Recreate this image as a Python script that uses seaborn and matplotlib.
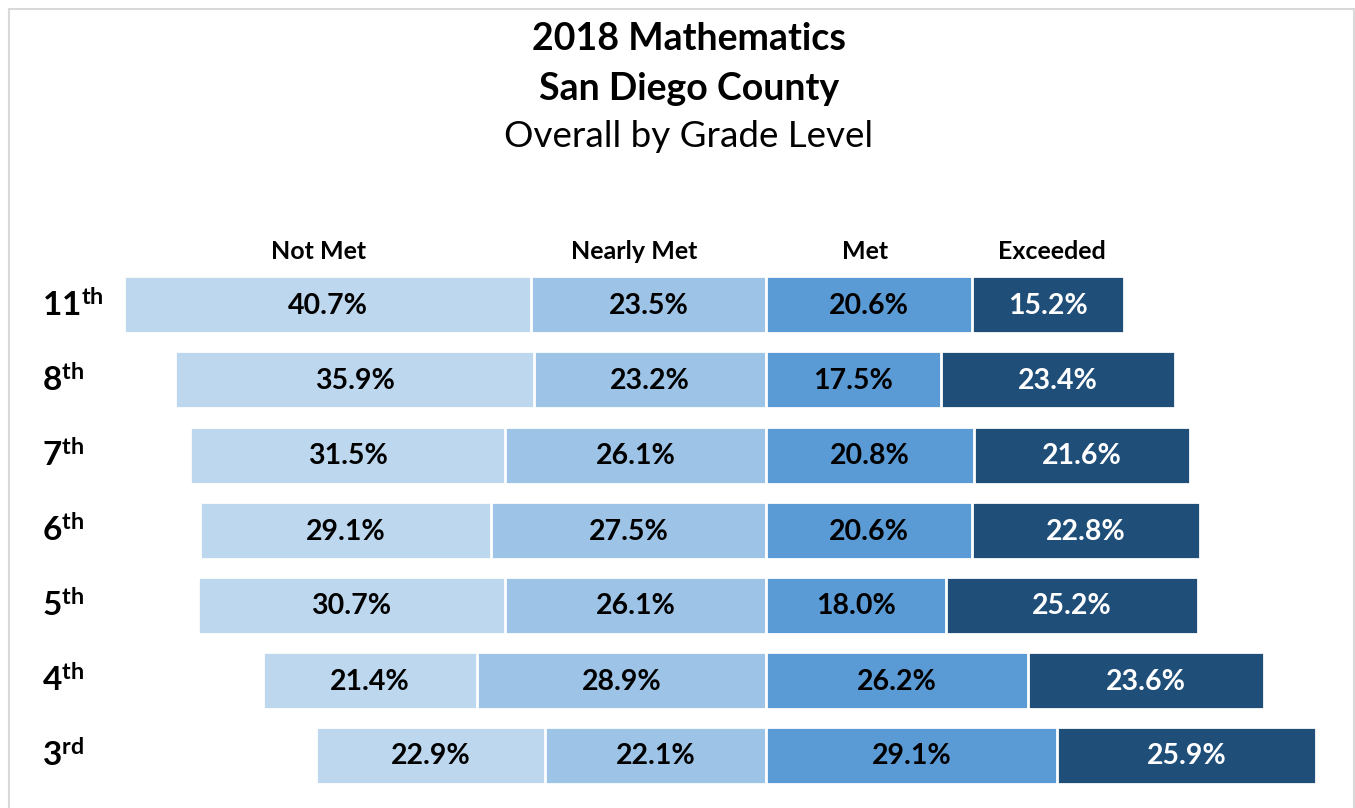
import numpy as np
import pandas as pd
import seaborn as sns
import matplotlib.pyplot as plt
from matplotlib.patches import Rectangle
from matplotlib.transforms import blended_transform_factory

# datos
grades = ['11th', '8th', '7th', '6th', '5th', '4th', '3rd']
grade_num = ['11', '8', '7', '6', '5', '4', '3']
grade_suffix = ['th', 'th', 'th', 'th', 'th', 'th', 'rd']
not_met = [40.7, 35.9, 31.5, 29.1, 30.7, 21.4, 22.9]
nearly_met = [23.5, 23.2, 26.1, 27.5, 26.1, 28.9, 22.1]
met = [20.6, 17.5, 20.8, 20.6, 18.0, 26.2, 29.1]
exceeded = [15.2, 23.4, 21.6, 22.8, 25.2, 23.6, 25.9]
levels = ['Not Met', 'Nearly Met', 'Met', 'Exceeded']
header_x = [-44.7, -13.2, 9.9, 28.6]
colors = ['#BDD7EE', '#9DC3E6', '#5B9BD5', '#1F4E79']

sns.set_theme(style='white')
plt.rcParams['font.family'] = ['Lato', 'DejaVu Sans']
plt.rcParams['text.color'] = 'black'
plt.rcParams['mathtext.fontset'] = 'custom'
plt.rcParams['mathtext.rm'] = 'Lato'
plt.rcParams['mathtext.bf'] = 'Lato:bold'

df = pd.DataFrame({'grade': grades, 'not_met': not_met, 'nearly_met': nearly_met,
                   'met': met, 'exceeded': exceeded})
# barras divergentes: lado negativo = no cumple, positivo = cumple
df['left_outer'] = -(df['not_met'] + df['nearly_met'])
df['left_inner'] = -df['nearly_met']
df['right_outer'] = df['met'] + df['exceeded']
df['right_inner'] = df['met']

W, H = 1355, 808
fig = plt.figure(figsize=(W / 100, H / 100), dpi=100)
ax = fig.add_axes([20 / W, 8 / H, 1325 / W, 585 / H])

layers = [('left_outer', colors[0]), ('left_inner', colors[1]),
          ('right_outer', colors[3]), ('right_inner', colors[2])]
for col, c in layers:
    sns.barplot(data=df, x=col, y='grade', orient='y', color=c, saturation=1,
                width=0.76, edgecolor='white', linewidth=2, errorbar=None, ax=ax)

ax.set_xlim(-74.6, 57.9)
ax.set_ylim(6.6, -1.2)
ax.axis('off')

# etiquetas de valores
for i in range(len(grades)):
    centers = [-nearly_met[i] - not_met[i] / 2, -nearly_met[i] / 2,
               met[i] / 2, met[i] + exceeded[i] / 2]
    vals = [not_met[i], nearly_met[i], met[i], exceeded[i]]
    for k in range(4):
        ax.text(centers[k], i + 0.02, f'{vals[k]:.1f}%', ha='center', va='center',
                fontsize=20.5, fontweight='bold',
                color='white' if k == 3 else 'black')

# encabezados de categoria
for k in range(4):
    ax.text(header_x[k], -0.707, levels[k], ha='center', va='center',
            fontsize=18, fontweight='bold', color='black')

# etiquetas de grado con superindice
tr = blended_transform_factory(fig.transFigure, ax.transData)
for i in range(len(grades)):
    ax.text(42 / W, i + 0.16, r'$\mathbf{' + grade_num[i] + '^{' + grade_suffix[i] + '}}$',
            transform=tr, ha='left', va='baseline', fontsize=24, color='black')

# titulo
fig.text(689 / W, 1 - 50 / H, '2018 Mathematics', ha='center', va='baseline',
         fontsize=27, fontweight='bold')
fig.text(689 / W, 1 - 100 / H, 'San Diego County', ha='center', va='baseline',
         fontsize=27, fontweight='bold')
fig.text(689 / W, 1 - 147 / H, 'Overall by Grade Level', ha='center', va='baseline',
         fontsize=26.5)

# marco gris
fig.patches.append(Rectangle((9 / W, -0.02), (1354 - 9) / W, 1 - 9 / H + 0.02,
                             transform=fig.transFigure, fill=False,
                             edgecolor='#D9D9D9', linewidth=1.5))

fig.savefig('out.png', dpi=100)
